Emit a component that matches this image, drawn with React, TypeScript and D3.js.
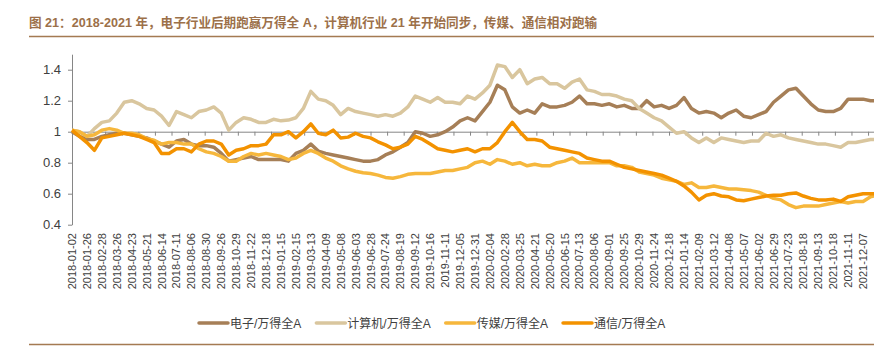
import React, { useEffect, useRef } from "react";
import * as d3 from "d3";

const TITLE = "图 21：2018-2021 年，电子行业后期跑赢万得全 A，计算机行业 21 年开始同步，传媒、通信相对跑输";

// category axis labels, one every 18 trading days
const dateLabels = [
  "2018-01-02", "2018-01-26", "2018-02-28", "2018-03-26", "2018-04-23", "2018-05-21", "2018-06-14",
  "2018-07-11", "2018-08-06", "2018-08-30", "2018-09-26", "2018-10-29", "2018-11-22", "2018-12-18",
  "2019-01-15", "2019-02-15", "2019-03-13", "2019-04-09", "2019-05-08", "2019-06-03", "2019-06-28",
  "2019-07-24", "2019-08-19", "2019-09-12", "2019-10-16", "2019-11-11", "2019-12-05", "2019-12-31",
  "2020-02-04", "2020-02-28", "2020-03-25", "2020-04-21", "2020-05-20", "2020-06-15", "2020-07-13",
  "2020-08-06", "2020-09-01", "2020-09-25", "2020-10-29", "2020-11-24", "2020-12-18",
  "2021-01-14", "2021-02-09", "2021-03-12", "2021-04-08", "2021-05-07", "2021-06-02", "2021-06-29",
  "2021-07-23", "2021-08-18", "2021-09-13", "2021-10-18", "2021-11-11", "2021-12-07",
];
const LABEL_EVERY = 18;
const TICK_EVERY = 20;
const SAMPLE_EVERY = 9; // values below are read every 9 trading days
const TOTAL_DAYS = 973;

const yTicks = [0.4, 0.6, 0.8, 1, 1.2, 1.4];

// 电子/万得全A
const electronics = [
  1.00, 0.97, 0.95, 0.95, 0.97, 0.98, 0.99, 0.99, 0.98, 0.97, 0.96, 0.94, 0.92, 0.90, 0.94, 0.95, 0.92, 0.91, 0.91, 0.90,
  0.86, 0.81, 0.82, 0.83, 0.84, 0.82, 0.82, 0.82, 0.82, 0.81, 0.86, 0.88, 0.92, 0.875, 0.86, 0.85, 0.84, 0.83, 0.82, 0.81,
  0.81, 0.82, 0.85, 0.87, 0.90, 0.93, 1.00, 0.99, 0.97, 0.98, 1.00, 1.03, 1.07, 1.09, 1.07, 1.13, 1.19, 1.30, 1.27, 1.16,
  1.12, 1.14, 1.12, 1.18, 1.16, 1.16, 1.17, 1.19, 1.23, 1.18, 1.18, 1.17, 1.18, 1.16, 1.17, 1.15, 1.15, 1.20, 1.16, 1.17,
  1.15, 1.17, 1.22, 1.15, 1.12, 1.13, 1.12, 1.09, 1.12, 1.14, 1.10, 1.09, 1.11, 1.13, 1.19, 1.23, 1.27, 1.28, 1.23, 1.18,
  1.14, 1.13, 1.13, 1.15, 1.21, 1.21, 1.21, 1.20, 1.20,
];
// 计算机/万得全A
const computer = [
  1.01, 1.00, 0.97, 1.02, 1.06, 1.07, 1.12, 1.19, 1.20, 1.18, 1.15, 1.14, 1.10, 1.04, 1.13, 1.11, 1.09, 1.13, 1.14, 1.16,
  1.12, 1.01, 1.06, 1.09, 1.08, 1.06, 1.06, 1.08, 1.07, 1.075, 1.09, 1.15, 1.26, 1.21, 1.20, 1.17, 1.11, 1.15, 1.13, 1.12,
  1.11, 1.10, 1.11, 1.10, 1.12, 1.16, 1.23, 1.21, 1.19, 1.22, 1.19, 1.19, 1.18, 1.23, 1.21, 1.25, 1.30, 1.43, 1.42, 1.35,
  1.40, 1.31, 1.34, 1.35, 1.31, 1.31, 1.28, 1.32, 1.34, 1.27, 1.26, 1.24, 1.24, 1.23, 1.21, 1.20, 1.15, 1.12, 1.09, 1.07,
  1.03, 0.99, 1.00, 0.96, 0.93, 0.96, 0.93, 0.96, 0.95, 0.94, 0.93, 0.94, 0.94, 0.99, 0.97, 0.98, 0.96, 0.95, 0.94, 0.93,
  0.92, 0.92, 0.91, 0.90, 0.93, 0.93, 0.94, 0.95, 0.95,
];
// 传媒/万得全A
const media = [
  1.01, 1.00, 0.97, 0.98, 1.01, 1.02, 1.01, 0.99, 0.99, 0.98, 0.955, 0.945, 0.92, 0.93, 0.93, 0.92, 0.92, 0.89, 0.87, 0.86,
  0.84, 0.81, 0.81, 0.84, 0.86, 0.85, 0.86, 0.85, 0.84, 0.82, 0.83, 0.86, 0.88, 0.86, 0.83, 0.81, 0.78, 0.76, 0.745, 0.735,
  0.73, 0.72, 0.705, 0.70, 0.71, 0.725, 0.73, 0.73, 0.73, 0.74, 0.75, 0.75, 0.76, 0.77, 0.80, 0.81, 0.79, 0.82, 0.81, 0.79,
  0.80, 0.78, 0.79, 0.78, 0.78, 0.80, 0.81, 0.83, 0.80, 0.80, 0.80, 0.80, 0.80, 0.78, 0.78, 0.77, 0.74, 0.73, 0.72, 0.70,
  0.69, 0.68, 0.66, 0.67, 0.64, 0.64, 0.65, 0.64, 0.63, 0.63, 0.625, 0.62, 0.61, 0.59, 0.57, 0.56, 0.53, 0.51, 0.52, 0.52,
  0.52, 0.53, 0.54, 0.55, 0.54, 0.55, 0.55, 0.58, 0.59,
];
// 通信/万得全A
const telecom = [
  1.01, 0.97, 0.93, 0.88, 0.96, 0.97, 0.98, 0.99, 0.98, 0.97, 0.95, 0.93, 0.86, 0.86, 0.89, 0.89, 0.87, 0.92, 0.94, 0.94,
  0.92, 0.85, 0.88, 0.89, 0.91, 0.91, 0.92, 0.98, 0.98, 1.00, 0.96, 1.00, 1.05, 0.99, 0.98, 1.01, 0.96, 0.965, 0.99, 0.97,
  0.96, 0.935, 0.915, 0.89, 0.90, 0.92, 0.97, 0.95, 0.92, 0.89, 0.88, 0.87, 0.88, 0.89, 0.87, 0.89, 0.89, 0.93, 1.00, 1.06,
  1.00, 0.95, 0.95, 0.94, 0.90, 0.89, 0.88, 0.87, 0.86, 0.83, 0.82, 0.81, 0.81, 0.79, 0.77, 0.76, 0.75, 0.74, 0.73, 0.72,
  0.70, 0.68, 0.65, 0.61, 0.56, 0.59, 0.60, 0.585, 0.58, 0.56, 0.555, 0.565, 0.575, 0.585, 0.59, 0.59, 0.60, 0.605, 0.585, 0.57,
  0.56, 0.56, 0.565, 0.55, 0.58, 0.59, 0.60, 0.60, 0.60,
];

const seriesNames = ["电子/万得全A", "计算机/万得全A", "传媒/万得全A", "通信/万得全A"];
const seriesValues = [electronics, computer, media, telecom];
const seriesColors = ["#A67F57", "#D9C69E", "#F6B73C", "#F39200"];

export default function App() {
  const svgRef = useRef<SVGSVGElement>(null);

  useEffect(() => {
    if (!svgRef.current) return;
    const W = 874;
    const H = 354;
    const FONT = "'Liberation Sans', 'Noto Sans CJK SC', sans-serif";
    const AXIS = "#868686";
    const TEXT = "#404040";
    const BRAND = "#A47A52";

    const svg = d3.select(svgRef.current);
    svg.selectAll("*").remove();
    svg.attr("width", W).attr("height", H);

    // Title + rules
    svg.append("text")
      .attr("x", 29).attr("y", 27)
      .style("font-family", FONT).style("font-size", "12.6px").style("font-weight", "bold")
      .attr("fill", "#9C7049")
      .text(TITLE);
    svg.append("line").attr("x1", 29).attr("x2", W).attr("y1", 36.5).attr("y2", 36.5)
      .attr("stroke", BRAND).attr("stroke-width", 1.5);
    svg.append("line").attr("x1", 29).attr("x2", W).attr("y1", 344.5).attr("y2", 344.5)
      .attr("stroke", BRAND).attr("stroke-width", 1.5);

    const x = d3.scaleLinear().domain([0, TOTAL_DAYS - 1]).range([72, 878]);
    const y = d3.scaleLinear().domain([0.4, 1.5]).range([224.7, 54.2]);

    // Y axis
    const yAxis = svg.append("g").attr("transform", "translate(72,0)")
      .call(d3.axisLeft(y).tickValues(yTicks).tickSizeInner(4).tickSizeOuter(0).tickPadding(7)
        .tickFormat(d => (Number(d) === 1 ? "1" : d3.format(".1f")(Number(d)))));
    yAxis.select(".domain").attr("stroke", AXIS);
    yAxis.selectAll("line").attr("stroke", AXIS);
    yAxis.selectAll("text").attr("fill", TEXT).style("font-family", FONT).style("font-size", "13px");

    // X axis sits on the 1.0 line
    const tickIdx = d3.range(0, TOTAL_DAYS, TICK_EVERY);
    const xAxis = svg.append("g").attr("transform", `translate(0,${y(1)})`)
      .call(d3.axisBottom(x).tickValues(tickIdx).tickSizeInner(4).tickSizeOuter(0).tickFormat(() => ""));
    xAxis.select(".domain").attr("stroke", AXIS);
    xAxis.selectAll("line").attr("stroke", AXIS);

    // Date labels along the bottom
    const labels = svg.append("g");
    dateLabels.forEach((d, k) => {
      labels.append("text")
        .attr("transform", `translate(${x(k * LABEL_EVERY) + 4},233) rotate(-90)`)
        .attr("text-anchor", "end")
        .style("font-family", FONT).style("font-size", "11px")
        .attr("fill", TEXT)
        .text(d);
    });

    // Series lines
    const line = d3.line<number>()
      .x((_, i) => x(i * SAMPLE_EVERY))
      .y(d => y(d));
    seriesValues.forEach((vals, s) => {
      svg.append("path").datum(vals)
        .attr("fill", "none")
        .attr("stroke", seriesColors[s])
        .attr("stroke-width", 3.5)
        .attr("stroke-linejoin", "round")
        .attr("d", line);
    });

    // Legend
    let cursor = 199;
    const legendY = 323;
    seriesNames.forEach((name, s) => {
      svg.append("line")
        .attr("x1", cursor).attr("x2", cursor + 29)
        .attr("y1", legendY).attr("y2", legendY)
        .attr("stroke", seriesColors[s]).attr("stroke-width", 3.5)
        .attr("stroke-linecap", "round");
      const t = svg.append("text")
        .attr("x", cursor + 31).attr("y", legendY + 4.5)
        .style("font-family", FONT).style("font-size", "12px")
        .attr("fill", TEXT)
        .text(name);
      const w = (t.node() as SVGTextElement).getComputedTextLength();
      cursor += 31 + w + 15;
    });
  }, []);

  return (
    <div style={{ position: "absolute", left: 0, top: 0, width: 874, height: 354, background: "#fff" }}>
      <svg ref={svgRef} style={{ display: "block" }}></svg>
    </div>
  );
}
